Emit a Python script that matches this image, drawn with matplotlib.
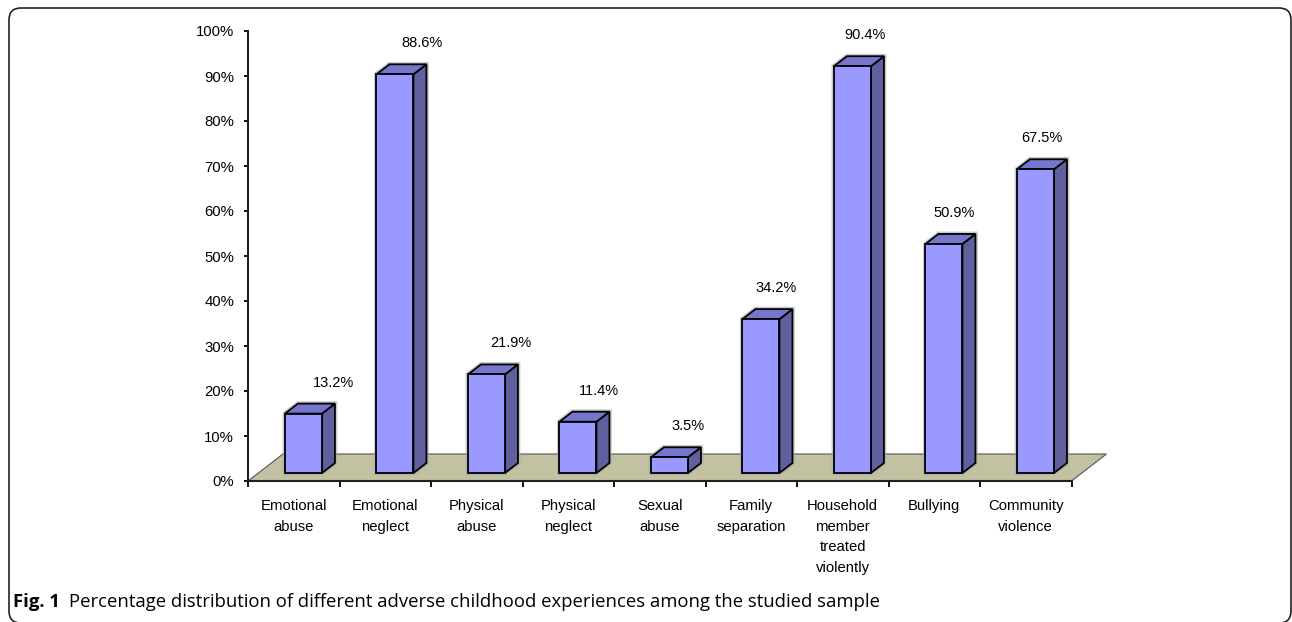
import numpy as np
import matplotlib
matplotlib.use("Agg")
import matplotlib.pyplot as plt
from matplotlib.patches import Polygon, FancyBboxPatch
from matplotlib.ticker import FuncFormatter

# ---- data ----
categories = ["Emotional\nabuse", "Emotional\nneglect", "Physical\nabuse",
              "Physical\nneglect", "Sexual\nabuse", "Family\nseparation",
              "Household\nmember\ntreated\nviolently", "Bullying",
              "Community\nviolence"]
values = [13.2, 88.6, 21.9, 11.4, 3.5, 34.2, 90.4, 50.9, 67.5]
y_ticks = list(range(0, 101, 10))
caption_bold = "Fig. 1"
caption_text = "Percentage distribution of different adverse childhood experiences among the studied sample"

# ---- style ----
FRONT = "#9999FF"
TOP = "#7676CC"
SIDE = "#60609E"
FLOOR = "#C2C2A2"
FONT = "Liberation Sans"

W, H = 1292, 622
fig = plt.figure(figsize=(W / 100, H / 100), dpi=100)

# overlay in pixel coordinates for frame + caption
bg = fig.add_axes([0, 0, 1, 1], zorder=0)
bg.set_xlim(0, W); bg.set_ylim(H, 0); bg.axis("off")
# frame runs off the bottom edge of the image like in the source
frame = FancyBboxPatch((9, 8), 1282, 615, boxstyle="round,pad=0,rounding_size=12",
                       fill=False, ec="#222222", lw=1.2, clip_on=True)
bg.add_patch(frame)
bg.text(13, 602, caption_bold, fontsize=13.3, fontweight="bold", family="Open Sans",
        va="center", ha="left")
bg.text(69, 602, caption_text, fontsize=13.3, family="Open Sans", va="center", ha="left")

# main chart axes: x in category units, y in percent
x0, x1, y_top, y_bot = 248, 1071.5, 31, 481
ax = fig.add_axes([x0 / W, (H - y_bot) / H, (x1 - x0) / W, (y_bot - y_top) / H], zorder=1)
ax.patch.set_alpha(0)
n = len(categories)
ax.set_xlim(0, n)
ax.set_ylim(0, 100)

px_x = n / (x1 - x0)          # category units per pixel
px_y = 100 / (y_bot - y_top)  # percent per pixel

# floor (3D depth)
fdx, fdy = 35 * px_x, 27 * px_y
floor = Polygon([(0, 0), (n, 0), (n + fdx, fdy), (fdx, fdy)], closed=True,
                fc=FLOOR, ec="#555555", lw=0.8, clip_on=False, zorder=1)
ax.add_patch(floor)

# bars
bw = 37 * px_x
ox0, oy0 = 9.7 * px_x, 8 * px_y      # front face offset into depth
ox1, oy1 = ox0 + 13 * px_x, oy0 + 10 * px_y  # back face offset
for i, v in enumerate(values):
    cx = i + 0.5
    xl, xr = cx - bw / 2, cx + bw / 2
    front = [(xl + ox0, oy0), (xr + ox0, oy0), (xr + ox0, v + oy0), (xl + ox0, v + oy0)]
    top = [(xl + ox0, v + oy0), (xr + ox0, v + oy0), (xr + ox1, v + oy1), (xl + ox1, v + oy1)]
    side = [(xr + ox0, oy0), (xr + ox1, oy1), (xr + ox1, v + oy1), (xr + ox0, v + oy0)]
    # soft shadow
    shadow = [(xl + ox0, oy0), (xr + ox0, oy0), (xr + ox1, oy1), (xr + ox1, v + oy1),
              (xl + ox1, v + oy1), (xl + ox0, v + oy0)]
    ax.add_patch(Polygon(shadow, closed=True, fc="none", ec="#AAAAAA", lw=3.5,
                         alpha=0.6, clip_on=False, zorder=2))
    for pts, c in [(side, SIDE), (top, TOP), (front, FRONT)]:
        ax.add_patch(Polygon(pts, closed=True, fc=c, ec="black", lw=1.3,
                             joinstyle="miter", clip_on=False, zorder=3))
    lx = cx + ox0 + (30 - 2.9 * i) * px_x
    ax.text(lx, v + oy0 + 31 * px_y, f"{v:.1f}%", ha="center", va="center",
            fontsize=10.5, family=FONT, zorder=4)

# axes styling
for s in ["top", "right"]:
    ax.spines[s].set_visible(False)
for s in ["left", "bottom"]:
    ax.spines[s].set_linewidth(1.5)
    ax.spines[s].set_color("#222222")
ax.spines["bottom"].set_zorder(2)

ax.set_yticks(y_ticks)
ax.yaxis.set_major_formatter(FuncFormatter(lambda y, _: f"{y:.0f}%"))
ax.tick_params(axis="y", direction="out", length=3, width=1.3, pad=7, labelsize=10.7)
ax.set_xticks(np.arange(0, n + 1))
ax.set_xticklabels([])
ax.set_xticks(np.arange(n) + 0.5, minor=True)
ax.set_xticklabels(categories, minor=True)
ax.tick_params(axis="x", which="major", direction="out", length=4, width=1.3)
ax.tick_params(axis="x", which="minor", length=0, pad=13, labelsize=10.7)
for lab in ax.get_xticklabels(minor=True):
    lab.set_linespacing(1.6)
for lab in ax.get_xticklabels(minor=True) + ax.get_yticklabels():
    lab.set_family(FONT)

fig.savefig("out.png", dpi=100)
